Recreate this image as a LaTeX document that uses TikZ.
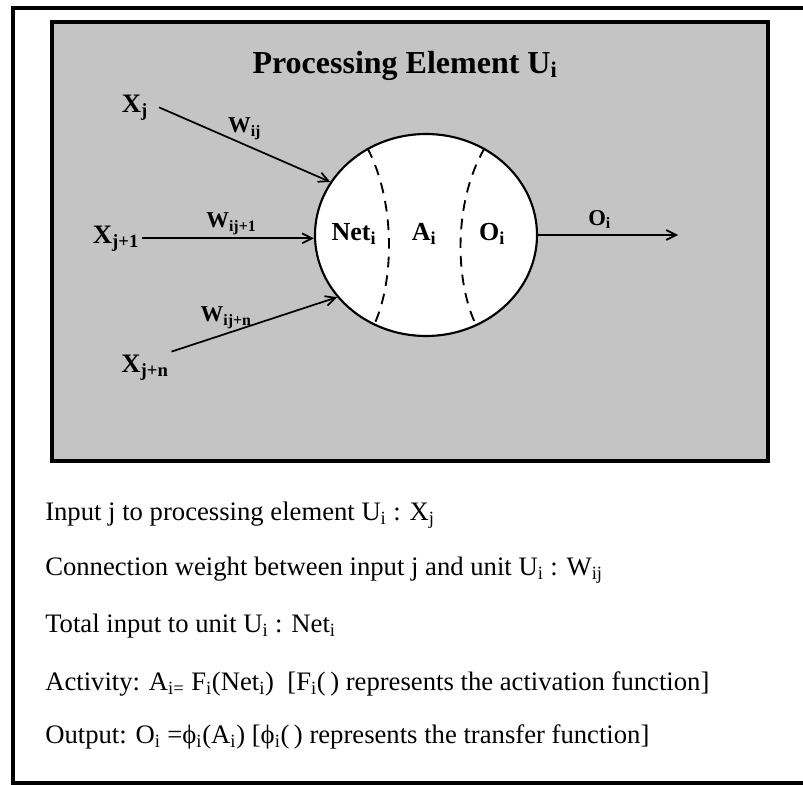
\documentclass[tikz,border=0pt]{standalone}
\usepackage{fontspec}
\setmainfont{Liberation Serif}
\usetikzlibrary{shapes.geometric,arrows.meta}
\definecolor{pegray}{RGB}{196,196,196}

\begin{document}
\begin{tikzpicture}[x=0.75pt,y=-0.75pt,
  frame/.style={line width=3pt},
  elem/.style={draw, ellipse, fill=white, line width=1.6pt, minimum width=166.5pt,
               minimum height=151.5pt, inner sep=0pt},
  inp/.style={font=\fontsize{20}{22}\selectfont\bfseries, inner sep=2pt, anchor=base},
  lbl/.style={font=\fontsize{19.5}{21}\selectfont\bfseries, inner sep=1pt, anchor=base},
  wt/.style={font=\fontsize{17}{19}\selectfont\bfseries, inner sep=1pt},
  ar/.style={-{Straight Barb[length=2.6mm,width=2.6mm]}, line width=1.3pt},
  sep/.style={dash pattern=on 8pt off 6pt, line width=1.4pt},
  txt/.style={font=\fontsize{20}{22}\selectfont, anchor=base west, inner sep=0pt},
]
\useasboundingbox (0,0) rectangle (803,785);
\draw[frame] (803,8) -- (13,8) -- (13,783) -- (803,783);
\draw[frame, fill=pegray] (52,22) rectangle (768,461);

% processing element
\node[font=\fontsize{24}{26}\selectfont\bfseries, anchor=base] (title) at (405,73)
  {Processing Element U\textsubscript{i}};
\node[elem] (pe) at (426,235) {};
\draw[sep] (pe.124.5) .. controls (395,200) and (395,280) .. (pe.240);
\draw[sep] (pe.56.5) .. controls (454,200) and (454,280) .. (pe.299);
\node[lbl] (net) at (354,240) {Net\textsubscript{i}};
\node[lbl] (act) at (424,240) {A\textsubscript{i}};
\node[lbl] (opt) at (492,240) {O\textsubscript{i}};

% inputs
\node[inp] (xj) at (135,112) {X\textsubscript{j}};
\node[inp] (xj1) at (116,243) {X\textsubscript{j+1}};
\node[inp] (xjn) at (145,372) {X\textsubscript{j+n}};
\draw[ar] ([xshift=6pt]xj.east) -- node[wt, pos=0.5, above=2pt] (wij) {W\textsubscript{ij}} (pe.151);
\draw[ar] (xj1.east) -- node[wt, pos=0.52, above=1pt] (wij1) {W\textsubscript{ij+1}} (xj1.east -| pe.west);
\draw[ar] (xjn.north east) -- node[wt, pos=0.33, above=2pt] (wijn) {W\textsubscript{ij+n}} (pe.215);

% output
\coordinate (out) at (678,235);
\draw[ar] (pe.east) -- node[wt, pos=0.44, above=3pt] (oi) {O\textsubscript{i}} (out);

% legend
\node[txt] (l1) at (45,520) {Input j to processing element U\textsubscript{i} : X\textsubscript{j}};
\node[txt] (l2) at (45,575) {Connection weight between input j and unit U\textsubscript{i} : W\textsubscript{ij}};
\node[txt] (l3) at (45,632) {Total input to unit U\textsubscript{i} : Net\textsubscript{i}};
\node[txt] (l4) at (45,690) {Activity: A\textsubscript{i=} F\textsubscript{i}(Net\textsubscript{i})\ \ [F\textsubscript{i}(\,) represents the activation function]};
\node[txt] (l5) at (45,743) {Output: O\textsubscript{i} =ϕ\textsubscript{i}(A\textsubscript{i}) [ϕ\textsubscript{i}(\,) represents the transfer function]};
\end{tikzpicture}
\end{document}
